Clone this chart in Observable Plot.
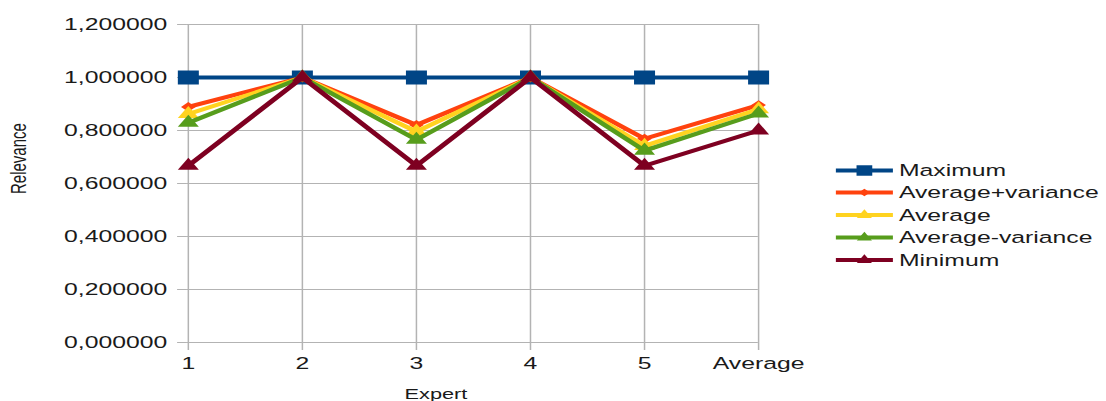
<!DOCTYPE html>
<html>
<head>
<meta charset="utf-8">
<script src="https://cdn.jsdelivr.net/npm/d3@7"></script>
<script src="https://cdn.jsdelivr.net/npm/@observablehq/plot@0.6"></script>
<style>
  body { margin: 0; background: #fff; }
  #chart svg { display: block; }
</style>
</head>
<body>
<div id="chart"></div>
<script>
// Relevance scores per expert, with the overall average in the last column
const experts = ["1", "2", "3", "4", "5", "Average"];
const seriesNames = ["Maximum", "Average+variance", "Average", "Average-variance", "Minimum"];
const maximum         = [1.000, 1.000, 1.000, 1.000, 1.000, 1.000];
const averagePlusVar  = [0.889, 1.000, 0.821, 1.000, 0.769, 0.896];
const average         = [0.862, 1.000, 0.796, 1.000, 0.742, 0.880];
const averageMinusVar = [0.829, 1.000, 0.765, 1.000, 0.724, 0.864];
const minimum         = [0.667, 1.000, 0.667, 1.000, 0.667, 0.800];
const seriesValues = [maximum, averagePlusVar, average, averageMinusVar, minimum];
const yTicks = [0, 0.2, 0.4, 0.6, 0.8, 1.0, 1.2];

const colors  = ["#004586", "#ff420e", "#ffd320", "#579d1c", "#7e0021"];
const symbols = ["square", "diamond2", "triangle", "triangle", "triangle"];
const dotR    = [7.9, 4.4, 5.2, 5.2, 5.2];
const legendSize = [110, 36, 44, 44, 44];

// The chart is laid out on a narrower canvas and shown stretched wide
const W = 737, H = 401, SCREEN_W = 1106;
const font = "'Liberation Sans', Arial, sans-serif";

const rows = seriesNames.map((name, i) =>
  experts.map((e, j) => ({series: name, expert: e, value: seriesValues[i][j]}))
);

const fmt = d => d3.format(".6f")(d).replace(".", ",");

const marks = [
  Plot.gridY(yTicks, {stroke: "#b3b3b3", strokeOpacity: 1, strokeWidth: 1}),
  Plot.gridX(experts, {stroke: "#b3b3b3", strokeOpacity: 1, strokeWidth: 1}),
  Plot.axisY(yTicks, {tickSize: 6, tickPadding: 7, tickFormat: fmt, stroke: "#b3b3b3", strokeOpacity: 1,
    fill: "#1a1a1a", fontSize: 16.5, label: null}),
  Plot.axisX(experts, {tickSize: 8, tickPadding: 7, stroke: "#b3b3b3", strokeOpacity: 1,
    fill: "#1a1a1a", fontSize: 16.5, label: null})
];

rows.forEach((data, i) => {
  marks.push(Plot.line(data, {x: "expert", y: "value", stroke: colors[i], strokeWidth: 4,
    strokeLinejoin: "miter", curve: "linear"}));
  marks.push(Plot.dot(data, {x: "expert", y: "value", symbol: () => symbols[i], r: dotR[i],
    fill: colors[i], stroke: "none"}));
});

marks.push(Plot.text(["Relevance"], {frameAnchor: "left", dx: -112, dy: 10.5, rotate: -90,
  fontSize: 15, fill: "#1a1a1a"}));
marks.push(Plot.text(["Expert"], {frameAnchor: "bottom", dx: -24.5, dy: 52, lineAnchor: "middle",
  fontSize: 14.5, fill: "#1a1a1a"}));

const chart = Plot.plot({
  width: W,
  height: H,
  marginLeft: 124,
  marginRight: 232,
  marginTop: 24,
  marginBottom: 59,
  style: {fontFamily: font, background: "#fff", color: "#1a1a1a"},
  x: {type: "point", domain: experts, padding: 0},
  y: {domain: [0, 1.2]},
  symbol: {type: "identity"},
  marks
});

// Legend to the right of the plot
const svg = d3.select(chart);
const legend = svg.append("g")
  .attr("font-family", font)
  .attr("font-size", 16.5)
  .attr("fill", "#1a1a1a")
  .attr("text-anchor", "start");
const legendRowY = [170.5, 192.5, 215, 237.5, 260];
const symbolTypes = {square: d3.symbolSquare, diamond2: d3.symbolDiamond2, triangle: d3.symbolTriangle};
seriesNames.forEach((name, i) => {
  const g = legend.append("g").attr("transform", `translate(0,${legendRowY[i]})`);
  g.append("line").attr("x1", 557).attr("x2", 595).attr("y1", 0).attr("y2", 0)
    .attr("stroke", colors[i]).attr("stroke-width", 4);
  g.append("path").attr("transform", "translate(576,0)")
    .attr("d", d3.symbol().type(symbolTypes[symbols[i]]).size(legendSize[i])())
    .attr("fill", colors[i]);
  g.append("text").attr("x", 599).attr("y", 0).attr("dy", "0.35em")
    .attr("text-anchor", "start").text(name);
});

chart.setAttribute("width", SCREEN_W);
chart.setAttribute("height", H);
chart.setAttribute("viewBox", `0 0 ${W} ${H}`);
chart.setAttribute("preserveAspectRatio", "none");
chart.style.maxWidth = "none";
chart.style.width = SCREEN_W + "px";
chart.style.height = H + "px";

document.getElementById("chart").appendChild(chart);
</script>
</body>
</html>
